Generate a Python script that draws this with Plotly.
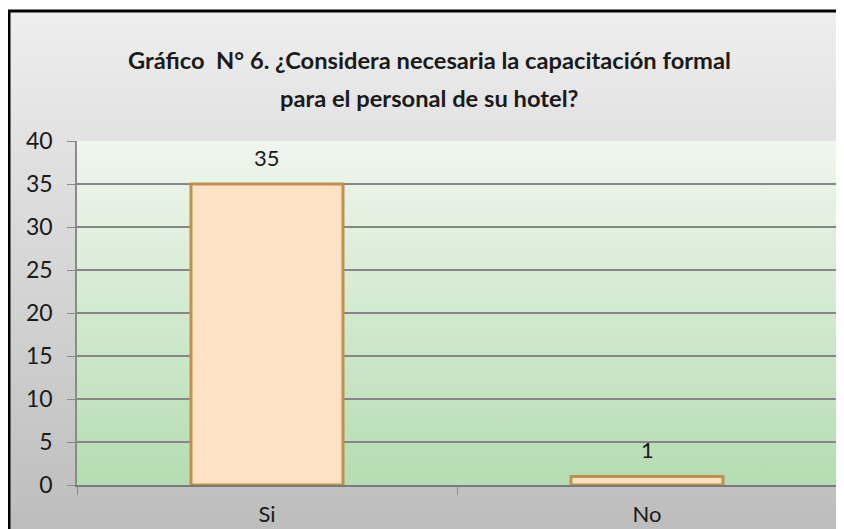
import base64
import plotly.graph_objects as go

categories = ["Si", "No"]
values = [35, 1]
title_lines = ["Gráfico  N° 6. ¿Considera necesaria la capacitación formal",
               "para el personal de su hotel?"]

# page has an 8px body margin, so the figure is drawn 8px in from the window edge
OFF = 8
W, H = 844 - OFF, 529 - OFF
L, R, T, B = 77 - OFF, 7, 141 - OFF, 44


def gradient_uri(top, bottom):
    svg = ('<svg xmlns="http://www.w3.org/2000/svg" width="100" height="100" preserveAspectRatio="none">'
           '<defs><linearGradient id="g" x1="0" y1="0" x2="0" y2="1">'
           f'<stop offset="0" stop-color="{top}"/><stop offset="1" stop-color="{bottom}"/>'
           '</linearGradient></defs><rect width="100" height="100" fill="url(#g)"/></svg>')
    return "data:image/svg+xml;base64," + base64.b64encode(svg.encode()).decode()


# screen pixel -> paper coords
def px(x):
    return (x - OFF - L) / (W - L - R)


def py(y):
    return (H - B - (y - OFF)) / (H - T - B)


font = "Lato, Open Sans, sans-serif"
dark = "#1a1a1a"

fig = go.Figure()
fig.add_trace(go.Bar(
    x=categories, y=values, width=0.4,
    marker=dict(color="#ffe2c3", line=dict(color="#c0914e", width=3)),
))

# value labels above the bars
for c, v in zip(categories, values):
    fig.add_annotation(x=c, y=v, text=str(v), showarrow=False, yanchor="middle", yshift=27,
                       font=dict(size=22, color=dark, family=font))

fig.update_layout(
    width=W, height=H,
    margin=dict(l=L, r=R, t=T, b=B),
    paper_bgcolor="white",
    plot_bgcolor="rgba(0,0,0,0)",
    showlegend=False,
    images=[
        dict(source=gradient_uri("#eeeeee", "#bdbdbd"), xref="paper", yref="paper",
             x=px(10), y=py(12), sizex=px(844) - px(10), sizey=py(12) - py(529),
             xanchor="left", yanchor="top", sizing="stretch", layer="below"),
        dict(source=gradient_uri("#f0f6ee", "#b5dcb2"), xref="paper", yref="paper",
             x=0, y=1, sizex=1, sizey=1, xanchor="left", yanchor="top",
             sizing="stretch", layer="below"),
    ],
    shapes=[
        dict(type="line", xref="paper", yref="paper", x0=px(9), x1=px(9), y0=py(10), y1=py(535),
             line=dict(color="black", width=3)),
        dict(type="line", xref="paper", yref="paper", x0=px(8), x1=px(850), y0=py(11), y1=py(11),
             line=dict(color="black", width=3)),
        dict(type="line", xref="paper", yref="paper", x0=1, x1=1, y0=0, y1=1,
             line=dict(color="#5e9a55", width=1.5)),
    ],
)
for i, line in enumerate(title_lines):
    fig.add_annotation(text="<b>" + line + "</b>", xref="paper", yref="paper",
                       x=px(429), y=py(60 + 38 * i), xanchor="center", yanchor="middle",
                       showarrow=False, font=dict(size=23.7, color=dark, family=font))

fig.update_yaxes(range=[0, 40], dtick=5, showgrid=True, gridcolor="#868686", gridwidth=1.5,
                 showline=True, linecolor="#8a8a8a", linewidth=1.5,
                 ticks="outside", ticklen=8, tickcolor="#8a8a8a", zeroline=False,
                 ticklabelstandoff=10, automargin=False,
                 tickfont=dict(size=23, color=dark, family=font))
fig.update_xaxes(showline=True, linecolor="#7a7a7a", linewidth=2,
                 ticks="outside", ticklen=8, tickcolor="#8a8a8a", tickson="boundaries",
                 ticklabelstandoff=9, automargin=False,
                 tickfont=dict(size=22, color=dark, family=font))

fig.write_html("out.html")
